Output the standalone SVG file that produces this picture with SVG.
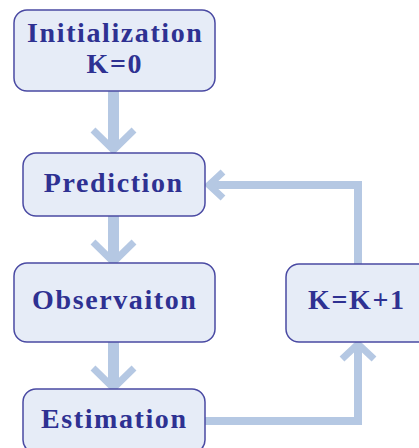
<svg xmlns="http://www.w3.org/2000/svg" width="419" height="448" viewBox="0 0 419 448">
<style>
.box{fill:#e6ecf7;stroke:#4a4aa3;stroke-width:1.5}
.lbl{font-family:"Liberation Serif","Times New Roman",serif;font-weight:bold;font-size:28px;letter-spacing:1.6px;fill:#2e3192;text-anchor:middle}
.shaft{stroke:#b5c8e3;fill:none;stroke-linecap:butt}
.head{stroke:#b5c8e3;fill:none;stroke-width:7;stroke-linecap:butt;stroke-linejoin:miter}
</style>
<rect width="419" height="448" fill="#ffffff"/>
<g id="connectors">
<line class="shaft" x1="113.5" y1="91" x2="113.5" y2="146" stroke-width="11"/>
<polyline class="head" points="93,130 113.5,150 134,130"/>
<line class="shaft" x1="113.5" y1="216" x2="113.5" y2="258" stroke-width="11"/>
<polyline class="head" points="93,242 113.5,262 134,242"/>
<line class="shaft" x1="113.5" y1="342" x2="113.5" y2="384" stroke-width="11"/>
<polyline class="head" points="93,368 113.5,388 134,368"/>
<polyline class="shaft" points="205,421 358,421 358,346" stroke-width="8"/>
<polyline class="head" points="342,359 358,344 374,359" stroke-width="6"/>
<polyline class="shaft" points="358,264 358,185 211,185" stroke-width="8"/>
<polyline class="head" points="223,172 209,185 223,198" stroke-width="6"/>
</g>
<g id="init">
<rect class="box" x="14" y="10" width="201" height="81" rx="13"/>
<text class="lbl" x="115.3" y="42">Initialization</text>
<text class="lbl" x="114.8" y="73">K=0</text>
</g>
<g id="prediction">
<rect class="box" x="23" y="153" width="182" height="63" rx="13"/>
<text class="lbl" x="113.8" y="192">Prediction</text>
</g>
<g id="observation">
<rect class="box" x="14" y="263" width="201" height="79" rx="13"/>
<text class="lbl" x="114.8" y="309">Observaiton</text>
</g>
<g id="estimation">
<rect class="box" x="23" y="389" width="182" height="64" rx="13"/>
<text class="lbl" x="114.3" y="428">Estimation</text>
</g>
<g id="increment">
<rect class="box" x="286" y="264" width="145" height="78" rx="13"/>
<text class="lbl" x="356.8" y="309">K=K+1</text>
</g>
</svg>
